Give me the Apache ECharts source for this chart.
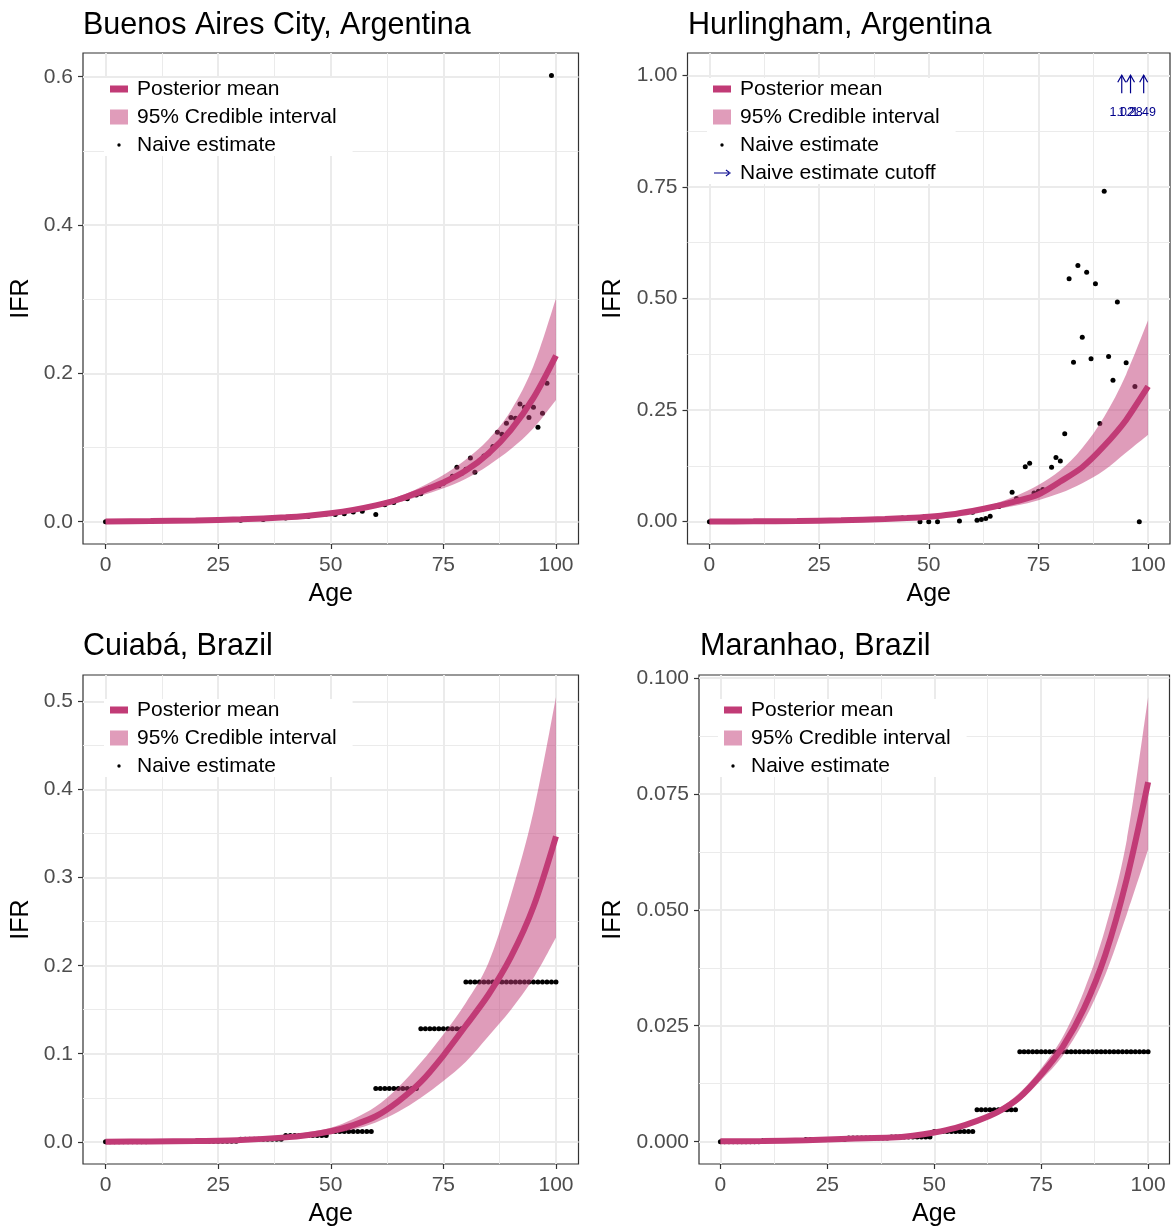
<!DOCTYPE html>
<html><head><meta charset="utf-8">
<script src="https://cdn.jsdelivr.net/npm/echarts@6/dist/echarts.min.js"></script>
<style>html,body{margin:0;padding:0;background:#fff}#c{width:1172px;height:1228px}</style>
</head><body><div id="c"></div>
<script>
// ---------- DATA ----------
const curveAges = [0,10,20,30,40,45,50,55,60,65,70,75,80,85,90,95,100];

// Buenos Aires City
const baMean  = [0.0005,0.001,0.0018,0.0033,0.006,0.0082,0.0115,0.016,0.022,0.030,0.041,0.053,0.069,0.092,0.124,0.167,0.224];
const baUpper = [0.0006,0.0012,0.0021,0.0038,0.0069,0.0095,0.013,0.018,0.025,0.034,0.047,0.063,0.084,0.111,0.150,0.210,0.301];
const baLower = [0.0004,0.0008,0.0015,0.0028,0.0051,0.007,0.010,0.014,0.019,0.026,0.035,0.045,0.058,0.076,0.098,0.126,0.164];
const baNaiveAge = [0,30,35,40,45,49,51,53,55,57,60,62,64,67,69,70,72,74,75,77,78,79,80,81,82,83,84,85,86,87,88,89,90,91,92,93,94,95,96,97,98,99];
const baNaiveIFR = [0,0.002,0.003,0.005,0.007,0.0103,0.0099,0.0108,0.013,0.014,0.0099,0.0229,0.026,0.031,0.036,0.0377,0.0462,0.0484,0.052,0.0615,0.0736,0.065,0.0709,0.0861,0.0669,0.0821,0.0888,0.092,0.1014,0.1207,0.118,0.1328,0.1404,0.1395,0.1588,0.1543,0.1404,0.1543,0.1274,0.1463,0.1866,0.6016];

// Hurlingham
const huMean  = [0.0003,0.0007,0.0015,0.003,0.006,0.008,0.011,0.016,0.024,0.034,0.046,0.061,0.090,0.122,0.170,0.228,0.303];
const huUpper = [0.0004,0.0009,0.002,0.004,0.0075,0.010,0.013,0.019,0.028,0.040,0.058,0.082,0.115,0.165,0.235,0.330,0.451];
const huLower = [0.0002,0.0005,0.0011,0.0022,0.0045,0.006,0.009,0.014,0.021,0.028,0.036,0.048,0.064,0.086,0.115,0.155,0.195];
const huNaiveAge = [0,44,48,49,50,52,57,60,61,62,63,64,66,69,70,72,73,74,75,76,78,79,80,81,82,83,84,85,86,87,88,89,90,91,92,93,95,97,98];
const huNaiveIFR = [0,0.008,0,0.011,0,0,0.0015,0.021,0.003,0.005,0.007,0.012,0.034,0.066,0.052,0.123,0.131,0.064,0.068,0.072,0.122,0.144,0.136,0.197,0.544,0.357,0.574,0.413,0.559,0.365,0.533,0.220,0.740,0.370,0.317,0.492,0.356,0.303,0];
const huCutoffAge = [94,96,99];
const huCutoffIFR = [1.02,1.28,1.49];
const huCutoffLevel = 1.0;

// Cuiabá
const cuMean  = [0.0001,0.0003,0.0008,0.002,0.005,0.0078,0.012,0.019,0.029,0.046,0.068,0.098,0.132,0.167,0.210,0.267,0.347];
const cuUpper = [0.00015,0.0005,0.0012,0.003,0.007,0.011,0.016,0.026,0.040,0.062,0.090,0.122,0.158,0.203,0.280,0.375,0.505];
const cuLower = [0.00005,0.0002,0.0005,0.0012,0.0035,0.0055,0.009,0.014,0.022,0.034,0.050,0.069,0.091,0.120,0.150,0.186,0.232];
const cuGroupStart = [0,10,20,30,40,50,60,70,80];
const cuGroupEnd   = [9,19,29,39,49,59,69,79,100];
const cuGroupIFR   = [0,0.0002,0.0006,0.003,0.0072,0.0117,0.0604,0.1283,0.1814];

// Maranhao
const maMean  = [0.00008,0.00017,0.00033,0.00066,0.0009,0.0013,0.002,0.003,0.0045,0.0065,0.0096,0.0145,0.0204,0.0287,0.0403,0.0566,0.0775];
const maUpper = [0.0001,0.0002,0.0004,0.0008,0.0011,0.0015,0.0022,0.0033,0.0049,0.0071,0.0106,0.0158,0.0225,0.0325,0.046,0.065,0.0958];
const maLower = [0.00006,0.00014,0.00027,0.0005,0.0007,0.0011,0.0018,0.0027,0.0041,0.006,0.0088,0.0133,0.0185,0.026,0.036,0.049,0.063];
const maGroupStart = [0,10,20,30,40,50,60,70];
const maGroupEnd   = [9,19,29,39,49,59,69,100];
const maGroupIFR   = [0,0.00024,0.00048,0.0008,0.001,0.0022,0.0069,0.0194];

const xTicks = [0,25,50,75,100];
const xMinor = [12.5,37.5,62.5,87.5];

// ---------- BUILD ----------
function expandGroups(s, e, v) {
  const out = [];
  for (let g = 0; g < s.length; g++) for (let a = s[g]; a <= e[g]; a++) out.push([a, v[g]]);
  return out;
}
function pairs(xs, ys) { return xs.map((x, i) => [x, ys[i]]); }
// smooth drawing (Catmull-Rom -> cubic Bezier) through pixel points
function smoothSegs(pts) {
  let d = '';
  for (let i = 0; i < pts.length - 1; i++) {
    const p0 = pts[i - 1] || pts[i], p1 = pts[i], p2 = pts[i + 1], p3 = pts[i + 2] || pts[i + 1];
    const c1x = p1[0] + (p2[0] - p0[0]) / 6, c1y = p1[1] + (p2[1] - p0[1]) / 6;
    const c2x = p2[0] - (p3[0] - p1[0]) / 6, c2y = p2[1] - (p3[1] - p1[1]) / 6;
    d += ' C' + c1x + ',' + c1y + ' ' + c2x + ',' + c2y + ' ' + p2[0] + ',' + p2[1];
  }
  return d;
}

const FONT = "'Liberation Sans', Arial, Helvetica, sans-serif";
const MEAN_COLOR = '#C13B76';
const BAND_FILL = 'rgba(192,58,118,0.5)';
const BAND_KEY = '#E09CBA';
const ARROW = '#00008B';

const panels = [
  {title:'Buenos Aires City, Argentina', titleLeft:78, titleTop:5,
   grid:{left:83, top:53, width:495.5, height:491}, ymin:-0.03, ymax:0.632,
   yMajor:[0,0.2,0.4,0.6], yMinor:[0.1,0.3,0.5], dec:1, nameGap:49,
   legendLeft:104, legendTop:78,
   mean:baMean, upper:baUpper, lower:baLower, naive:pairs(baNaiveAge, baNaiveIFR)},
  {title:'Hurlingham, Argentina', titleLeft:683, titleTop:5,
   grid:{left:687.5, top:53, width:482.5, height:491}, ymin:-0.05, ymax:1.05,
   yMajor:[0,0.25,0.5,0.75,1.0], yMinor:[0.125,0.375,0.625,0.875], dec:2, nameGap:62,
   legendLeft:707, legendTop:78,
   mean:huMean, upper:huUpper, lower:huLower, naive:pairs(huNaiveAge, huNaiveIFR), cutoff:true},
  {title:'Cuiabá, Brazil', titleLeft:78, titleTop:626,
   grid:{left:83, top:675, width:495.5, height:490}, ymin:-0.02525, ymax:0.53025,
   yMajor:[0,0.1,0.2,0.3,0.4,0.5], yMinor:[0.05,0.15,0.25,0.35,0.45], dec:1, nameGap:49,
   legendLeft:104, legendTop:699,
   mean:cuMean, upper:cuUpper, lower:cuLower, naive:expandGroups(cuGroupStart, cuGroupEnd, cuGroupIFR)},
  {title:'Maranhao, Brazil', titleLeft:695, titleTop:626,
   grid:{left:699, top:675, width:470.5, height:490}, ymin:-0.0048, ymax:0.1006,
   yMajor:[0,0.025,0.05,0.075,0.1], yMinor:[0.0125,0.0375,0.0625,0.0875], dec:3, nameGap:73,
   legendLeft:718, legendTop:699,
   mean:maMean, upper:maUpper, lower:maLower, naive:expandGroups(maGroupStart, maGroupEnd, maGroupIFR)}
];

// legend keys: 22px wide box (18px drawn key + spacing before text)
const ICON_MEAN = 'path://M0,0L0.01,0M0,6.5L18,6.5L18,13.5L0,13.5ZM21.99,20L22,20';
const ICON_BAND = 'path://M0,0L0.01,0M0,2.5L18,2.5L18,17.5L0,17.5ZM21.99,20L22,20';
const ICON_DOT  = 'path://M0,0L0.01,0M7.3,10A1.7,1.7 0 1 0 10.7,10A1.7,1.7 0 1 0 7.3,10ZM21.99,20L22,20';
const ICON_ARROW = 'path://M0,0L0.01,0M1,9.4L16.5,9.4L16.5,10.6L1,10.6ZM18,10L13.2,6.6L12.6,7.5L16.3,10L12.6,12.5L13.2,13.4ZM21.99,20L22,20';

const grids = [], xAxes = [], yAxes = [], series = [], titles = [], legends = [];
const splitMajor = {show:true, lineStyle:{color:'#EBEBEB', width:2}};
const splitMinor = {show:true, lineStyle:{color:'#EBEBEB', width:1}};

panels.forEach((p, i) => {
  grids.push(Object.assign({show:true, borderColor:'#333333', borderWidth:1.2, backgroundColor:'#fff', containLabel:false}, p.grid));
  titles.push({text:p.title, left:p.titleLeft, top:p.titleTop,
    textStyle:{fontSize:30.5, fontWeight:'normal', color:'#000', fontFamily:FONT}});
  const xa = 2*i, ya = 2*i;
  xAxes.push({type:'value', gridIndex:i, min:-5, max:105, position:'bottom',
    axisLine:{show:false, onZero:false},
    axisTick:{show:true, inside:false, length:5, lineStyle:{color:'#333333', width:1.2}, customValues:xTicks},
    axisLabel:{customValues:xTicks, margin:11, fontSize:21, color:'#4D4D4D', fontFamily:FONT},
    splitLine:splitMajor,
    name:'Age', nameLocation:'middle', nameGap:38, nameTextStyle:{fontSize:25, color:'#000', fontFamily:FONT}});
  xAxes.push({type:'value', gridIndex:i, min:-5, max:105, position:'top',
    axisLine:{show:false, onZero:false}, axisTick:{show:false, customValues:xMinor}, axisLabel:{show:false},
    splitLine:splitMinor});
  yAxes.push({type:'value', gridIndex:i, min:p.ymin, max:p.ymax, position:'left',
    axisLine:{show:false, onZero:false},
    axisTick:{show:true, inside:false, length:5, lineStyle:{color:'#333333', width:1.2}, customValues:p.yMajor},
    axisLabel:{customValues:p.yMajor, formatter:(v) => Number(v).toFixed(p.dec), margin:10, fontSize:21, color:'#4D4D4D', fontFamily:FONT},
    splitLine:splitMajor,
    name:'IFR', nameLocation:'middle', nameGap:p.nameGap, nameTextStyle:{fontSize:25, color:'#000', fontFamily:FONT}});
  yAxes.push({type:'value', gridIndex:i, min:p.ymin, max:p.ymax, position:'right',
    axisLine:{show:false, onZero:false}, axisTick:{show:false, customValues:p.yMinor}, axisLabel:{show:false},
    splitLine:splitMinor});

  series.push({type:'scatter', name:'Naive estimate', xAxisIndex:xa, yAxisIndex:ya, z:2, silent:true,
    symbolSize:5, itemStyle:{color:'#000', opacity:1}, data:p.naive});

  const ages = curveAges, up = p.upper, lo = p.lower;
  series.push({type:'custom', name:'95% Credible interval', xAxisIndex:xa, yAxisIndex:ya, z:3, silent:true,
    itemStyle:{color:BAND_KEY},
    data:[[ages[0], lo[0]]],
    renderItem:function(params, api) {
      const top = [], bot = [];
      for (let k = 0; k < ages.length; k++) top.push(api.coord([ages[k], up[k]]));
      for (let k = ages.length - 1; k >= 0; k--) bot.push(api.coord([ages[k], lo[k]]));
      const d = 'M' + top[0][0] + ',' + top[0][1] + smoothSegs(top) +
                ' L' + bot[0][0] + ',' + bot[0][1] + smoothSegs(bot) + ' Z';
      return {type:'path', shape:{pathData:d}, style:{fill:BAND_FILL}};
    }});

  series.push({type:'line', name:'Posterior mean', xAxisIndex:xa, yAxisIndex:ya, z:4, silent:true,
    symbol:'none', showSymbol:false, smooth:0.3,
    itemStyle:{color:MEAN_COLOR}, lineStyle:{color:MEAN_COLOR, width:6},
    data:pairs(curveAges, p.mean)});

  const legendData = [
    {name:'Posterior mean', icon:ICON_MEAN, itemStyle:{color:MEAN_COLOR, borderWidth:0, opacity:1}},
    {name:'95% Credible interval', icon:ICON_BAND, itemStyle:{color:BAND_KEY, borderWidth:0, opacity:1}},
    {name:'Naive estimate', icon:ICON_DOT, itemStyle:{color:'#000', borderWidth:0, opacity:1}}
  ];

  if (p.cutoff) {
    series.push({type:'custom', name:'Naive estimate cutoff', xAxisIndex:xa, yAxisIndex:ya, z:5, silent:true,
      itemStyle:{color:ARROW},
      data:huCutoffAge.map((a, k) => [a, huCutoffLevel, huCutoffIFR[k]]),
      renderItem:function(params, api) {
        const c = api.coord([api.value(0), api.value(1)]);
        const x = c[0], y = c[1];
        return {type:'group', children:[
          {type:'line', shape:{x1:x, y1:y+18, x2:x, y2:y}, style:{stroke:ARROW, lineWidth:1.2}},
          {type:'polyline', shape:{points:[[x-4, y+7],[x, y],[x+4, y+7]]}, style:{stroke:ARROW, lineWidth:1.2, fill:null}},
          {type:'text', style:{text:Number(api.value(2)).toFixed(2), x:x, y:y+37, align:'center', verticalAlign:'middle',
            fontSize:12.5, fontFamily:FONT, fill:ARROW}}
        ]};
      }});
    legendData.push({name:'Naive estimate cutoff', icon:ICON_ARROW, itemStyle:{color:ARROW, borderWidth:0, opacity:1}});
  }

  legends.push({left:p.legendLeft, top:p.legendTop, orient:'vertical', selectedMode:false,
    itemWidth:22, itemHeight:20, itemGap:6, padding:[0,16,0,6],
    backgroundColor:'#fff', data:legendData,
    textStyle:{fontSize:21, color:'#000', fontFamily:FONT, lineHeight:22}});
});

const chart = echarts.init(document.getElementById('c'), null, {renderer:'canvas'});
chart.setOption({
  animation:false, backgroundColor:'#fff',
  title:titles, legend:legends, grid:grids, xAxis:xAxes, yAxis:yAxes, series:series
});
</script></body></html>
